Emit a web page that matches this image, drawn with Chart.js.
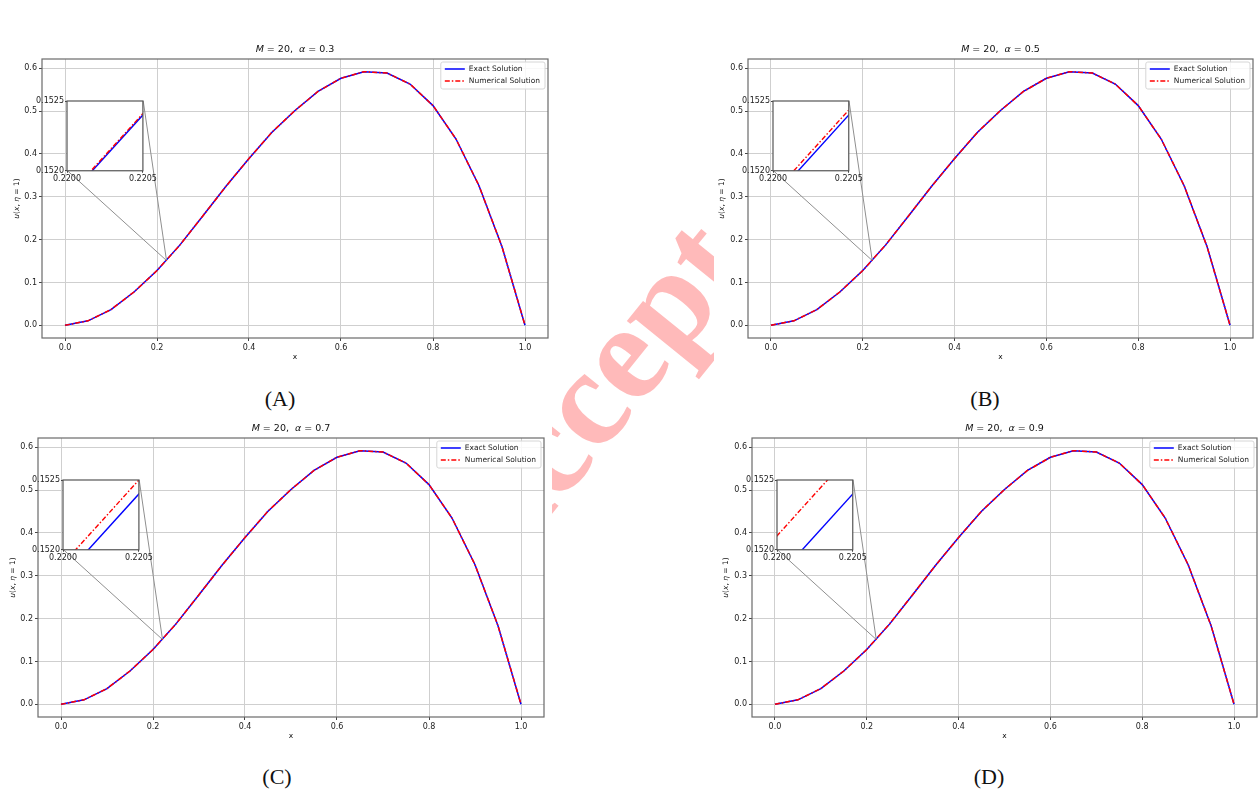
<!DOCTYPE html>
<html>
<head>
<meta charset="utf-8">
<script src="https://cdn.jsdelivr.net/npm/chart.js@4.4.1/dist/chart.umd.min.js"></script>
<style>
  html, body { margin: 0; padding: 0; background: #fff; }
  #page { position: relative; width: 1258px; height: 793px; overflow: hidden; }
  .stamp {
    position: absolute; left: 632px; top: 342px; z-index: 0;
    font-family: "Liberation Serif", serif; font-weight: bold; font-size: 138px;
    line-height: 1; color: #ffbaba; white-space: nowrap;
    transform: translate(-50%, -50%) rotate(-51deg);
  }
  .sheet { position: absolute; background: #fff; z-index: 1; }
  canvas { position: absolute; z-index: 2; }
  .inset { z-index: 3; }
  .caption {
    position: absolute; z-index: 4; transform: translate(-50%, -50%);
    font-family: "Liberation Serif", serif; font-size: 22px; color: #111;
  }
</style>
</head>
<body>
<div id="page">
  <div class="stamp">Accepted</div>
</div>
<script>
// x grid of the solution
const xValues = [0, 0.05, 0.1, 0.15, 0.2, 0.25, 0.3, 0.35, 0.4, 0.45, 0.5,
                 0.55, 0.6, 0.65, 0.7, 0.75, 0.8, 0.85, 0.9, 0.95, 1.0];
// exact u(x, eta = 1), same in all four panels
const exactSolution = [0, 0.0105, 0.0368, 0.0778, 0.1278, 0.1878, 0.2560, 0.3245, 0.3895, 0.4510, 0.5015,
                       0.5460, 0.5768, 0.5922, 0.5890, 0.5634, 0.5130, 0.4350, 0.3260, 0.1835, 0];
// numerical u for each alpha (only differs visibly inside the zoom window)
const numericalA = [0, 0.0105, 0.0368, 0.0778, 0.12781, 0.18781, 0.2560, 0.3245, 0.3895, 0.4510, 0.5015,
                    0.5460, 0.5768, 0.5922, 0.5890, 0.5634, 0.5130, 0.4350, 0.3260, 0.1835, 0];
const numericalB = [0, 0.0105, 0.0368, 0.0778, 0.127835, 0.187835, 0.2560, 0.3245, 0.3895, 0.4510, 0.5015,
                    0.5460, 0.5768, 0.5922, 0.5890, 0.5634, 0.5130, 0.4350, 0.3260, 0.1835, 0];
const numericalC = [0, 0.0105, 0.0368, 0.0778, 0.1279, 0.1879, 0.2560, 0.3245, 0.3895, 0.4510, 0.5015,
                    0.5460, 0.5768, 0.5922, 0.5890, 0.5634, 0.5130, 0.4350, 0.3260, 0.1835, 0];
const numericalD = [0, 0.0105, 0.0368, 0.0778, 0.1281, 0.1881, 0.2560, 0.3245, 0.3895, 0.4510, 0.5015,
                    0.5460, 0.5768, 0.5922, 0.5890, 0.5634, 0.5130, 0.4350, 0.3260, 0.1835, 0];
const numericalSets = [numericalA, numericalB, numericalC, numericalD];
const alphaLabels = ['0.3', '0.5', '0.7', '0.9'];
const panelLetters = ['A', 'B', 'C', 'D'];

const xTicks = [0, 0.2, 0.4, 0.6, 0.8, 1.0];
const yTicks = [0, 0.1, 0.2, 0.3, 0.4, 0.5, 0.6];
const insetXTicks = [0.22, 0.2205];
const insetYTicks = [0.152, 0.1525];

// axes boxes in page pixels
const panels = [
  { left: 42, top: 59, width: 506, height: 279, ylab: 25, sheet: [0, 38, 556, 370], caption: [280, 399] },
  { left: 748, top: 59, width: 505, height: 279, ylab: 26, sheet: [714, 38, 1258, 370], caption: [985, 399] },
  { left: 38, top: 438, width: 506, height: 279, ylab: 25, sheet: [0, 418, 552, 750], caption: [277, 777] },
  { left: 752, top: 438, width: 505, height: 279, ylab: 26, sheet: [716, 418, 1258, 750], caption: [989, 777] }
];

const FONT = "'DejaVu Sans', sans-serif";
const page = document.getElementById('page');

function toPoints(ys) {
  return xValues.map((x, i) => ({ x: x, y: ys[i] }));
}

// draw text made of upright / italic pieces, centred on (x, y)
function drawRich(ctx, parts, x, y, size) {
  let total = 0;
  parts.forEach(p => {
    ctx.font = (p.it ? 'italic ' : '') + size + 'px ' + FONT;
    p.w = ctx.measureText(p.t).width;
    total += p.w;
  });
  let cx = x - total / 2;
  ctx.textAlign = 'left';
  ctx.textBaseline = 'middle';
  parts.forEach(p => {
    ctx.font = (p.it ? 'italic ' : '') + size + 'px ' + FONT;
    ctx.fillText(p.t, cx, y);
    cx += p.w;
  });
}

const decorPlugin = {
  id: 'decor',
  afterDatasetsDraw(chart) {
    const ctx = chart.ctx;
    const a = chart.chartArea;
    const o = chart.options.plugins.decor;
    const xs = chart.scales.x, ys = chart.scales.y;
    const w = a.right - a.left, h = a.bottom - a.top;
    ctx.save();

    // inset connectors (mark_inset style)
    const ix0 = a.left + 0.05 * w, ix1 = ix0 + 0.15 * w;
    const iyB = a.bottom - 0.6 * h, iyT = a.bottom - 0.85 * h;
    const p1x = xs.getPixelForValue(insetXTicks[0]), p1y = ys.getPixelForValue(insetYTicks[0]);
    const p2x = xs.getPixelForValue(insetXTicks[1]), p2y = ys.getPixelForValue(insetYTicks[1]);
    ctx.strokeStyle = '#8f8f8f';
    ctx.lineWidth = 1;
    ctx.beginPath();
    ctx.moveTo(ix0, iyB); ctx.lineTo(p1x, p1y);
    ctx.moveTo(ix1, iyT); ctx.lineTo(p2x, p2y);
    ctx.stroke();

    // spines
    ctx.strokeStyle = '#6a6a6a';
    ctx.lineWidth = 1.2;
    ctx.strokeRect(a.left, a.top, w, h);

    // legend
    const items = [
      { label: 'Exact Solution', color: '#0000ff', dash: [] },
      { label: 'Numerical Solution', color: '#ff0000', dash: [5, 2, 1.5, 2] }
    ];
    ctx.font = '7.5px ' + FONT;
    const tw = Math.max(...items.map(it => ctx.measureText(it.label).width));
    const bw = tw + 33, bh = 27;
    const bx = a.right - 3 - bw, by = a.top + 3;
    ctx.fillStyle = 'rgba(255,255,255,0.85)';
    ctx.strokeStyle = '#d6d6d6';
    ctx.lineWidth = 1;
    ctx.beginPath();
    ctx.roundRect(bx, by, bw, bh, 2);
    ctx.fill();
    ctx.stroke();
    items.forEach((it, i) => {
      const ly = by + 7 + i * 12;
      ctx.strokeStyle = it.color;
      ctx.lineWidth = 1.5;
      ctx.setLineDash(it.dash);
      ctx.beginPath();
      ctx.moveTo(bx + 4, ly); ctx.lineTo(bx + 24, ly);
      ctx.stroke();
      ctx.setLineDash([]);
      ctx.fillStyle = '#222';
      ctx.textAlign = 'left';
      ctx.textBaseline = 'middle';
      ctx.fillText(it.label, bx + 28, ly);
    });

    // title and axis labels
    ctx.fillStyle = '#111';
    drawRich(ctx, [{ t: 'M', it: true }, { t: ' = 20,  ' }, { t: 'α', it: true }, { t: ' = ' + o.alpha }],
      (a.left + a.right) / 2, a.top - 9, 9.5);
    drawRich(ctx, [{ t: 'x' }], (a.left + a.right) / 2, a.bottom + 19, 7.5);
    ctx.translate(a.left - o.ylab, (a.top + a.bottom) / 2);
    ctx.rotate(-Math.PI / 2);
    drawRich(ctx, [{ t: 'u', it: true }, { t: '(' }, { t: 'x', it: true }, { t: ', ' },
      { t: 'η', it: true }, { t: ' = 1)' }], 0, 0, 7.5);
    ctx.restore();
  }
};

const insetPlugin = {
  id: 'insetBox',
  beforeDatasetsDraw(chart) {
    const a = chart.chartArea, ctx = chart.ctx;
    ctx.save();
    ctx.fillStyle = '#fff';
    ctx.fillRect(a.left, a.top, a.right - a.left, a.bottom - a.top);
    ctx.restore();
  },
  afterDatasetsDraw(chart) {
    const a = chart.chartArea, ctx = chart.ctx;
    ctx.save();
    ctx.strokeStyle = '#555';
    ctx.lineWidth = 1.2;
    ctx.strokeRect(a.left, a.top, a.right - a.left, a.bottom - a.top);
    ctx.restore();
  }
};

function seriesDatasets(idx, width) {
  return [
    { label: 'Numerical Solution', data: toPoints(numericalSets[idx]), borderColor: '#ff0000',
      borderWidth: width, borderDash: [5, 2, 1.5, 2], pointRadius: 0, tension: 0, order: 0 },
    { label: 'Exact Solution', data: toPoints(exactSolution), borderColor: '#0000ff',
      borderWidth: width, pointRadius: 0, tension: 0, order: 1 }
  ];
}

function axis(min, max, ticks, digits, fit, size, pad, grid) {
  return {
    type: 'linear', min: min, max: max,
    afterBuildTicks: s => { s.ticks = ticks.map(v => ({ value: v })); },
    afterFit: fit,
    border: { display: false },
    grid: grid,
    ticks: { color: '#222', font: { family: FONT, size: size }, autoSkip: false, padding: pad,
             maxRotation: 0, minRotation: 0, callback: v => Number(v).toFixed(digits) }
  };
}

function makeMain(p, idx) {
  const padL = 46, padT = 26, padR = 8, padB = 32;
  const sh = document.createElement('div');
  sh.className = 'sheet';
  sh.style.left = p.sheet[0] + 'px'; sh.style.top = p.sheet[1] + 'px';
  sh.style.width = (p.sheet[2] - p.sheet[0]) + 'px'; sh.style.height = (p.sheet[3] - p.sheet[1]) + 'px';
  page.appendChild(sh);

  const cv = document.createElement('canvas');
  cv.width = p.width + padL + padR;
  cv.height = p.height + padT + padB;
  cv.style.left = (p.left - padL) + 'px';
  cv.style.top = (p.top - padT) + 'px';
  page.appendChild(cv);

  const grid = { color: '#cfcfcf', lineWidth: 1, tickLength: 3, tickColor: '#444', tickWidth: 1 };
  new Chart(cv, {
    type: 'line',
    data: { datasets: seriesDatasets(idx, 1.5) },
    options: {
      responsive: false, animation: false, devicePixelRatio: 1,
      layout: { padding: { top: padT, right: padR, left: 0, bottom: 0 } },
      plugins: { legend: { display: false }, tooltip: { enabled: false },
                 decor: { alpha: alphaLabels[idx], ylab: p.ylab } },
      scales: {
        x: axis(-0.05, 1.05, xTicks, 1, s => { s.height = padB; }, 8, 2, grid),
        y: axis(-0.0296, 0.6218, yTicks, 1, s => { s.width = padL; }, 8, 2, grid)
      }
    },
    plugins: [decorPlugin]
  });

  const cap = document.createElement('div');
  cap.className = 'caption';
  cap.textContent = '(' + panelLetters[idx] + ')';
  cap.style.left = p.caption[0] + 'px';
  cap.style.top = p.caption[1] + 'px';
  page.appendChild(cap);
}

function makeInset(p, idx) {
  const il = p.left + 0.05 * p.width, it = p.top + 0.15 * p.height;
  const iw = 0.15 * p.width, ih = 0.25 * p.height;
  const padL = 36, padT = 7, padR = 22, padB = 15;
  const cv = document.createElement('canvas');
  cv.className = 'inset';
  cv.width = Math.round(iw + padL + padR);
  cv.height = Math.round(ih + padT + padB);
  cv.style.left = (il - padL) + 'px';
  cv.style.top = (it - padT) + 'px';
  page.appendChild(cv);
  const right = cv.width - padL - iw;
  const bottom = cv.height - padT - ih;

  const grid = { drawOnChartArea: false, tickLength: 2, tickColor: '#444', tickWidth: 1 };
  new Chart(cv, {
    type: 'line',
    data: { datasets: seriesDatasets(idx, 1.4) },
    options: {
      responsive: false, animation: false, devicePixelRatio: 1,
      layout: { padding: { top: padT, right: right, left: 0, bottom: 0 } },
      plugins: { legend: { display: false }, tooltip: { enabled: false } },
      scales: {
        x: axis(insetXTicks[0], insetXTicks[1], insetXTicks, 4, s => { s.height = bottom; }, 8, 1, grid),
        y: axis(insetYTicks[0], insetYTicks[1], insetYTicks, 4, s => { s.width = padL; }, 8, 1, grid)
      }
    },
    plugins: [insetPlugin]
  });
}

panels.forEach((p, i) => {
  makeMain(p, i);
  makeInset(p, i);
});
</script>
</body>
</html>
